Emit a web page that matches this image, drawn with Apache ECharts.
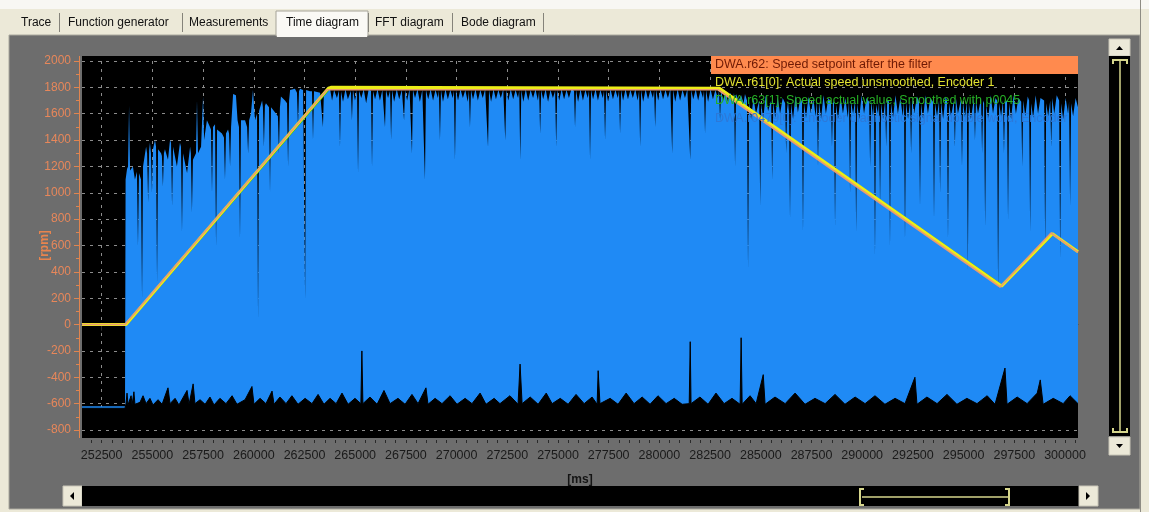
<!DOCTYPE html>
<html>
<head>
<meta charset="utf-8">
<title>Time diagram</title>
<script src="https://cdn.jsdelivr.net/npm/echarts@6.0.0/dist/echarts.min.js"></script>
<style>
  html, body { margin: 0; padding: 0; background: #ece9d8; }
  #chart { width: 1149px; height: 512px; }
</style>
</head>
<body>
<div id="chart"></div>
<script>
// trace signals, names as in the legend
const seriesNames = [
  'DWA.r62: Speed setpoint after the filter',
  'DWA.r61[0]: Actual speed unsmoothed, Encoder 1',
  'DWA.r63[1]: Speed actual value, Smoothed with p0045',
  'DWA.r0479[0]: Encoder diagnostic signal double word, Encoder 1'
];

const xTickLabels = [252500, 255000, 257500, 260000, 262500, 265000, 267500, 270000, 272500, 275000,
  277500, 280000, 282500, 285000, 287500, 290000, 292500, 295000, 297500, 300000];

// r62 setpoint [ms, rpm]
const setpoint = [[251530, 0], [253650, 0], [263610, 1782], [282890, 1782], [296800, 285], [299310, 695], [300640, 548]];
// r61 actual speed unsmoothed
const actualSpeed = [[251530, 0], [253700, 0], [263680, 1794], [263800, 1800], [282960, 1794], [296870, 292], [299380, 690], [300640, 552]];
// r63 actual speed smoothed
const smoothSpeed = [[251530, 0], [253740, 0], [263730, 1788], [283030, 1788], [296920, 296], [299420, 686], [300640, 555]];

// encoder diagnostic signal: upper edge of the blue band
const encoderTop = [
  [251530, -620], [253650, -620], [253680, 1100], [253750, 1180], [253800, 1200], [253850, 1660], [253900, 1170],
  [254040, 1200], [254140, 1100], [254240, 1160], [254290, 600], [254340, 1150], [254440, 1100], [254490, 200],
  [254540, 1200], [254690, 1350], [254740, 1300], [254790, 930], [254840, 1320], [254880, 1380], [254930, 1300],
  [254980, 1000], [255030, 1330], [255130, 1400], [255180, 1350], [255230, 320], [255280, 1330], [255430, 1300],
  [255470, 1280], [255520, 1050], [255570, 1300], [255620, 1330], [255770, 1250], [255870, 1400], [255920, 1380],
  [255970, 900], [256020, 1350], [256210, 1200], [256360, 1380], [256410, 1350], [256460, 700], [256510, 1300],
  [256710, 1150], [256860, 1350], [256900, 1300], [256950, 850], [257000, 1250], [257150, 1300], [257200, 1700],
  [257250, 1300], [257400, 1350], [257450, 1350], [257500, 1730], [257550, 1400], [257690, 1550], [257840, 1500],
  [257890, 1480], [257940, 1000], [257990, 1500], [258090, 1520], [258140, 600], [258190, 1480], [258430, 1450],
  [258530, 1420], [258580, 1100], [258630, 1450], [258730, 1480], [258780, 1450], [258830, 1200], [258880, 1500],
  [258980, 1750], [259120, 1740], [259200, 1550], [259270, 1500], [259320, 650], [259370, 1550], [259570, 1550],
  [259670, 1500], [259720, 1300], [259770, 1550], [259860, 1600], [259960, 1780], [260060, 1550], [260160, 1600],
  [260210, 40], [260260, 1620], [260410, 1700], [260450, 1650], [260500, 1350], [260550, 1660], [260600, 1680],
  [260750, 1650], [260800, 1000], [260850, 1650], [261100, 1600], [261190, 1580], [261240, 1300], [261290, 1650],
  [261340, 1730], [261540, 1700], [261640, 1680], [261690, 1200], [261740, 1700], [261790, 1780], [262030, 1790],
  [262130, 1760], [262180, 1500], [262230, 1770], [262280, 1790], [262430, 1780], [262480, 1780], [262530, 200],
  [262580, 1780], [262770, 1770], [262870, 1770], [262920, 1400], [262970, 1770], [263270, 1760], [263360, 1760],
  [263410, 1500], [263460, 1770], [263510, 1780],
  [263600, 1770], [263760, 1790], [263860, 1700], [263960, 1780], [264100, 1720], [264200, 1775], [264250, 1350],
  [264300, 1770], [264400, 1690], [264520, 1785], [264640, 1710], [264790, 1775], [264840, 1550], [264890, 1780],
  [264990, 1700], [265090, 1780], [265140, 1150], [265190, 1775], [265300, 1720], [265420, 1785], [265540, 1680],
  [265660, 1780], [265780, 1775], [265830, 1200], [265880, 1770], [265980, 1710], [266100, 1785], [266220, 1700],
  [266340, 1780], [266420, 1775], [266470, 1500], [266520, 1780], [266620, 1720], [266720, 1775], [266770, 1400],
  [266820, 1780], [266920, 1690], [267050, 1785], [267170, 1710], [267300, 1780], [267360, 1775], [267410, 1550],
  [267460, 1780], [267560, 1700], [267680, 1785], [267750, 1775], [267800, 1300], [267850, 1780], [267950, 1720],
  [268070, 1785], [268190, 1690], [268310, 1780], [268390, 1775], [268440, 1100], [268490, 1780], [268600, 1710],
  [268720, 1785], [268840, 1700], [268960, 1780], [269080, 1720], [269130, 1775], [269180, 1400], [269230, 1780],
  [269330, 1690], [269450, 1785], [269570, 1710], [269690, 1780], [269810, 1720], [269870, 1775], [269920, 1250],
  [269970, 1780], [270070, 1700], [270190, 1785], [270310, 1720], [270430, 1780], [270550, 1690], [270610, 1775],
  [270660, 1500], [270710, 1780], [270810, 1710], [270930, 1785], [271050, 1700], [271170, 1780], [271290, 1720],
  [271410, 1785], [271500, 1775], [271550, 1350], [271600, 1780], [271700, 1690], [271820, 1785], [271940, 1710],
  [272060, 1780], [272180, 1720], [272300, 1785], [272350, 1775], [272400, 1400], [272450, 1780], [272550, 1700],
  [272670, 1785], [272790, 1710], [272910, 1780], [273030, 1720], [273090, 1775], [273140, 1250], [273190, 1780],
  [273290, 1690], [273410, 1785], [273530, 1700], [273650, 1780], [273770, 1720], [273890, 1785], [274010, 1700],
  [274070, 1775], [274120, 1450], [274170, 1780], [274270, 1710], [274390, 1785], [274510, 1690], [274630, 1780],
  [274750, 1720], [274860, 1775], [274910, 1350], [274960, 1780], [275060, 1700], [275180, 1785], [275300, 1710],
  [275420, 1780], [275540, 1720], [275660, 1785], [275790, 1775], [275840, 1500], [275890, 1780], [275990, 1690],
  [276110, 1785], [276230, 1700], [276350, 1780], [276470, 1720], [276530, 1775], [276580, 1250], [276630, 1780],
  [276730, 1710], [276850, 1785], [276970, 1700], [277090, 1780], [277210, 1720], [277270, 1775], [277320, 1400],
  [277370, 1780], [277470, 1690], [277590, 1785], [277710, 1710], [277830, 1780], [277950, 1720], [278010, 1775],
  [278060, 1450], [278110, 1780], [278210, 1700], [278330, 1785], [278450, 1710], [278570, 1780], [278690, 1720],
  [278810, 1785], [278930, 1700], [279000, 1775], [279050, 1350], [279100, 1780], [279200, 1690], [279320, 1785],
  [279440, 1710], [279560, 1780], [279680, 1720], [279740, 1775], [279790, 1500], [279840, 1780], [279940, 1700],
  [280060, 1785], [280180, 1710], [280300, 1780], [280420, 1720], [280540, 1785], [280580, 1775], [280630, 1300],
  [280680, 1780], [280780, 1690], [280900, 1785], [281020, 1700], [281140, 1780], [281260, 1720], [281380, 1785],
  [281470, 1775], [281520, 1250], [281570, 1780], [281670, 1710], [281790, 1785], [281910, 1700], [282030, 1780],
  [282150, 1720], [282200, 1775], [282250, 1450], [282300, 1780], [282400, 1690], [282520, 1785], [282640, 1710],
  [282760, 1780], [282880, 1720], [282940, 1775], [282990, 1550], [283040, 1780], [283140, 1700], [283260, 1770],
  [283380, 1690], [283500, 1760], [283620, 1700], [283680, 1760], [283730, 1200], [283780, 1750], [283900, 1700],
  [284030, 1740], [284150, 1680], [284220, 1750],
  [284320, 1700], [284370, 420], [284420, 1690], [284520, 1560], [284640, 1720], [284760, 1600], [284920, 1700],
  [284970, 900], [285020, 1680], [285120, 1560], [285240, 1740], [285360, 1620], [285510, 1700], [285560, 1100],
  [285610, 1690], [285710, 1570], [285830, 1730], [285950, 1600], [286080, 1720], [286200, 1680], [286250, 1300],
  [286300, 1690], [286350, 1620], [286390, 1700], [286440, 800], [286490, 1680], [286590, 1560], [286710, 1740],
  [286830, 1610], [286950, 1720], [287030, 1690], [287080, 700], [287130, 1680], [287230, 1570], [287350, 1730],
  [287470, 1600], [287590, 1720], [287700, 1580], [287770, 1700], [287820, 1200], [287870, 1690], [287970, 1560],
  [288090, 1740], [288210, 1600], [288330, 1720], [288460, 1690], [288510, 1350], [288560, 1700], [288610, 1680],
  [288660, 750], [288710, 1670], [288810, 1560], [288930, 1730], [289050, 1600], [289170, 1720], [289290, 1570],
  [289350, 1700], [289400, 1000], [289450, 1690], [289550, 1600], [289650, 1700], [289700, 700], [289750, 1680],
  [289850, 1560], [289970, 1740], [290090, 1600], [290210, 1720], [290340, 1690], [290390, 1200], [290440, 1700],
  [290530, 1580], [290580, 1680], [290630, 530], [290680, 1670], [290780, 1600], [290830, 1690], [290880, 900],
  [290930, 1680], [291030, 1560], [291130, 1700], [291180, 1350], [291230, 1710], [291320, 1690], [291370, 600],
  [291420, 1680], [291520, 1570], [291640, 1740], [291760, 1600], [291880, 1720], [292000, 1580], [292060, 1700],
  [292110, 650], [292160, 1690], [292260, 1560], [292360, 1700], [292410, 1300], [292460, 1720], [292560, 1600],
  [292700, 1730], [292800, 1690], [292850, 900], [292900, 1680], [293000, 1560], [293120, 1740], [293240, 1600],
  [293360, 1720], [293490, 1690], [293540, 800], [293590, 1680], [293690, 1580], [293790, 1700], [293840, 1000],
  [293890, 1690], [293990, 1560], [294110, 1730], [294180, 1700], [294230, 650], [294280, 1680], [294380, 1580],
  [294520, 1700], [294570, 1350], [294620, 1720], [294720, 1600], [294870, 1710], [294920, 1200], [294970, 1690],
  [295070, 1570], [295160, 1700], [295210, 420], [295260, 1680], [295360, 1560], [295510, 1720], [295560, 1400],
  [295610, 1700], [295710, 1600], [295860, 1720], [295910, 1300], [295960, 1700], [296010, 1680], [296060, 750],
  [296110, 1670], [296210, 1560], [296330, 1740], [296450, 1600], [296570, 1720], [296650, 1700], [296700, 270],
  [296750, 1680], [296850, 1580], [296940, 1700], [296990, 1300], [297040, 1690], [297140, 1700], [297190, 800],
  [297240, 1680], [297340, 1560], [297460, 1740], [297580, 1600], [297700, 1720], [297840, 1690], [297890, 1200],
  [297940, 1700], [298040, 1580], [298160, 1730], [298230, 1700], [298280, 700], [298330, 1680], [298430, 1570],
  [298550, 1740], [298670, 1600], [298790, 1720], [298970, 1700], [299020, 600], [299070, 1680], [299170, 1580],
  [299270, 1700], [299320, 1350], [299370, 1720], [299470, 1600], [299590, 1740], [299710, 1700], [299760, 500],
  [299810, 1680], [299910, 1560], [300030, 1720], [300150, 1600], [300200, 1690], [300250, 900], [300300, 1680],
  [300400, 1580], [300520, 1720], [300640, 1650]
];

// lower edge of the blue band (black below it)
const encoderBottom = [
  [251530, -635], [253650, -635], [253700, -600], [253750, -520], [253800, -610], [253950, -540],
  [254000, -610], [254090, -510], [254140, -605], [254390, -590], [254540, -540], [254690, -600],
  [254880, -560], [255030, -610], [255280, -570], [255480, -605], [255770, -480], [255870, -600],
  [256120, -560], [256310, -610], [256710, -500], [256810, -605], [257010, -450], [257100, -600],
  [257350, -570], [257600, -605], [257840, -550], [258040, -610], [258330, -560], [258630, -600],
  [258930, -540], [259170, -605], [259570, -570], [259910, -470], [260010, -605], [260310, -560],
  [260600, -600], [260900, -505], [261000, -605], [261290, -550], [261590, -600], [261880, -540],
  [262180, -605], [262530, -560], [262870, -600], [263170, -530], [263460, -605], [263760, -560],
  [264060, -600], [264350, -520], [264650, -605], [264990, -560], [265280, -600], [265330, -200],
  [265380, -600], [265730, -550], [266080, -605], [266420, -500], [266720, -600], [267110, -560],
  [267460, -605], [267800, -530], [268100, -600], [268490, -480], [268590, -605], [268940, -560],
  [269280, -600], [269680, -540], [270020, -605], [270420, -560], [270760, -600], [271160, -520],
  [271450, -605], [271850, -560], [272140, -600], [272630, -540], [273030, -605], [273130, -300],
  [273230, -600], [273630, -550], [274020, -605], [274420, -520], [274710, -600], [275110, -560],
  [275500, -605], [275890, -530], [276290, -600], [276680, -550], [276930, -605], [276980, -350],
  [277070, -600], [277570, -560], [277960, -605], [278360, -520], [278750, -600], [279150, -550],
  [279540, -605], [279930, -540], [280330, -600], [280730, -560], [281120, -605], [281470, -600],
  [281520, -130], [281560, -600], [282000, -550], [282400, -605], [282790, -520], [283190, -600],
  [283580, -560], [283980, -605], [284030, -100], [284080, -605], [284470, -540], [284770, -600],
  [285120, -380], [285210, -605], [285700, -550], [286200, -600], [286690, -520], [287180, -605],
  [287670, -560], [288170, -600], [288660, -530], [289150, -605], [289650, -550], [290140, -600],
  [290630, -540], [291120, -605], [291620, -560], [292110, -600], [292600, -400], [292700, -605],
  [293190, -550], [293690, -600], [294180, -530], [294670, -605], [295160, -560], [295660, -600],
  [296160, -540], [296550, -605], [297040, -330], [297140, -605], [297640, -550], [298130, -600],
  [298630, -520], [298780, -420], [298920, -605], [299420, -560], [299910, -600], [300250, -540],
  [300640, -600]
];

const xMinorTicks = [];
for (let t = 252000; t <= 300500; t += 500) {
  xMinorTicks.push(t);
}

const chart = echarts.init(document.getElementById('chart'));

const tabs = [
  { text: 'Trace', x: 21 },
  { text: 'Function generator', x: 68 },
  { text: 'Measurements', x: 189 },
  { text: 'Time diagram', x: 286 },
  { text: 'FFT diagram', x: 375 },
  { text: 'Bode diagram', x: 461 },
];
const tabSeparators = [59, 182, 368, 452, 543];

const scrollYellow = '#d6d68c';
const btn = '#ece9d8';
const orange = '#e0844f';

const graphics = [
  { type: 'rect', z: -100, shape: { x: 0, y: 0, width: 1149, height: 9 }, style: { fill: '#f8f7f3' } },
  { type: 'rect', z: -90, shape: { x: 9, y: 35, width: 1131, height: 474 }, style: { fill: '#6d6d6d', stroke: '#aaa89e', lineWidth: 1 } },
  { type: 'rect', z: -85, shape: { x: 276, y: 11, width: 92, height: 25 }, style: { fill: '#faf9f5', stroke: '#a5a398', lineWidth: 1 } },
  { type: 'rect', z: -84, shape: { x: 277, y: 33, width: 90, height: 4 }, style: { fill: '#faf9f5' } },
  // black frame around the plot
  { type: 'rect', z: -50, shape: { x: 82, y: 56, width: 996, height: 6 }, style: { fill: '#000' } },
  { type: 'rect', z: -50, shape: { x: 82, y: 429, width: 996, height: 9 }, style: { fill: '#000' } },
  { type: 'line', z: 5, shape: { x1: 79.5, y1: 56, x2: 79.5, y2: 438 }, style: { stroke: orange, lineWidth: 1 } },
  // right scrollbar
  { type: 'rect', z: 10, shape: { x: 1109, y: 39, width: 21, height: 17 }, style: { fill: btn, stroke: '#c9c6b8' } },
  { type: 'polygon', z: 11, shape: { points: [[1116, 50], [1123, 50], [1119.5, 46]] }, style: { fill: '#000' } },
  { type: 'rect', z: 10, shape: { x: 1109, y: 56, width: 21, height: 380 }, style: { fill: '#000' } },
  { type: 'polyline', z: 11, shape: { points: [[1113, 64], [1113, 60], [1127, 60], [1127, 64]] }, style: { stroke: scrollYellow, lineWidth: 2, fill: null } },
  { type: 'line', z: 11, shape: { x1: 1120, y1: 61, x2: 1120, y2: 431 }, style: { stroke: scrollYellow, lineWidth: 1.5 } },
  { type: 'polyline', z: 11, shape: { points: [[1113, 428], [1113, 432], [1127, 432], [1127, 428]] }, style: { stroke: scrollYellow, lineWidth: 2, fill: null } },
  { type: 'rect', z: 10, shape: { x: 1109, y: 437, width: 21, height: 18 }, style: { fill: btn, stroke: '#c9c6b8' } },
  { type: 'polygon', z: 11, shape: { points: [[1116, 444], [1123, 444], [1119.5, 448]] }, style: { fill: '#000' } },
  { type: 'line', z: 10, shape: { x1: 1140.5, y1: 0, x2: 1140.5, y2: 512 }, style: { stroke: '#8e8c84', lineWidth: 1 } },
  // bottom scrollbar
  { type: 'rect', z: 10, shape: { x: 63, y: 486, width: 19, height: 20 }, style: { fill: btn, stroke: '#c9c6b8' } },
  { type: 'polygon', z: 11, shape: { points: [[74, 492], [74, 500], [70, 496]] }, style: { fill: '#000' } },
  { type: 'rect', z: 10, shape: { x: 82, y: 486, width: 997, height: 20 }, style: { fill: '#000' } },
  { type: 'rect', z: 10, shape: { x: 1079, y: 486, width: 19, height: 20 }, style: { fill: btn, stroke: '#c9c6b8' } },
  { type: 'polygon', z: 11, shape: { points: [[1086, 492], [1086, 500], [1090, 496]] }, style: { fill: '#000' } },
  { type: 'polyline', z: 11, shape: { points: [[864, 489], [860, 489], [860, 505], [864, 505]] }, style: { stroke: scrollYellow, lineWidth: 2, fill: null } },
  { type: 'polyline', z: 11, shape: { points: [[1005, 489], [1009, 489], [1009, 505], [1005, 505]] }, style: { stroke: scrollYellow, lineWidth: 2, fill: null } },
  { type: 'line', z: 11, shape: { x1: 862, y1: 497, x2: 1008, y2: 497 }, style: { stroke: scrollYellow, lineWidth: 1.5 } },
];
tabs.forEach((t) => {
  graphics.push({
    type: 'text', z: 12, x: t.x, y: 23,
    style: { text: t.text, fill: '#111', font: '12px "Liberation Sans"', textVerticalAlign: 'middle' },
  });
});
tabSeparators.forEach((sx) => {
  graphics.push({ type: 'line', z: 12, shape: { x1: sx + 0.5, y1: 13, x2: sx + 0.5, y2: 32 }, style: { stroke: '#85837a', lineWidth: 1 } });
});

const legendStyle = (color, bg) => ({
  color,
  backgroundColor: bg || 'transparent',
  width: 359,
  overflow: 'truncate',
  ellipsis: '',
  lineHeight: 14,
  padding: [2, 4, 2, 4],
  fontSize: 12.5,
  fontFamily: 'Liberation Sans',
});

const option = {
  backgroundColor: '#ece9d8',
  animation: false,
  graphic: graphics,
  grid: {
    left: 82, right: 71, top: 61, bottom: 82,
    show: true, backgroundColor: '#000', borderWidth: 0,
    outerBoundsMode: 'none',
  },
  legend: {
    orient: 'vertical',
    left: 706,
    top: 56,
    padding: 0,
    itemGap: 0,
    itemWidth: 0,
    itemHeight: 18,
    icon: 'none',
    selectedMode: false,
    data: [
      { name: seriesNames[0], textStyle: legendStyle('#6e1a05', '#ff8a4e') },
      { name: seriesNames[1], textStyle: legendStyle('#e2e232') },
      { name: seriesNames[2], textStyle: legendStyle('#26b026') },
      { name: seriesNames[3], textStyle: legendStyle('#2d78d8') },
    ],
  },
  xAxis: [
    {
      type: 'value',
      min: 251530,
      max: 300640,
      position: 'bottom',
      offset: 10,
      name: '[ms]',
      nameLocation: 'middle',
      nameGap: 34,
      nameMoveOverlap: false,
      nameTextStyle: { color: '#141414', fontWeight: 'bold', fontSize: 12, fontFamily: 'Liberation Sans' },
      axisLine: { show: true, lineStyle: { color: '#3c3c3c', width: 1 } },
      axisTick: { show: true, customValues: xTickLabels, length: 6, lineStyle: { color: '#2a2a2a' } },
      axisLabel: {
        customValues: xTickLabels, color: '#1a1a1a', fontSize: 12.5, fontFamily: 'Liberation Sans', margin: 9,
        formatter: (v) => String(v),
      },
      splitLine: { show: true, lineStyle: { color: '#8c8c8c', type: [3, 5], width: 1 } },
    },
    {
      type: 'value',
      min: 251530,
      max: 300640,
      position: 'bottom',
      offset: 10,
      axisLine: { show: false },
      axisTick: { show: true, customValues: xMinorTicks, length: 3, lineStyle: { color: '#2a2a2a' } },
      axisLabel: { show: false },
      splitLine: { show: false },
    },
  ],
  yAxis: {
    type: 'value',
    min: -800,
    max: 2000,
    interval: 200,
    offset: 3,
    name: '[rpm]',
    nameLocation: 'middle',
    nameRotate: 90,
    nameGap: 28,
    nameMoveOverlap: false,
    nameTextStyle: { color: '#e8844e', fontWeight: 'bold', fontSize: 12, fontFamily: 'Liberation Sans' },
    axisLine: { show: true, lineStyle: { color: orange, width: 1 } },
    axisTick: { show: true, length: 5, lineStyle: { color: orange } },
    minorTick: { show: true, splitNumber: 2, length: 3, lineStyle: { color: orange } },
    axisLabel: {
      color: '#e8875a', fontSize: 12, fontFamily: 'Liberation Sans', margin: 8,
      formatter: (v) => String(v),
    },
    splitLine: { show: true, lineStyle: { color: '#8c8c8c', type: [3, 5], width: 1 } },
  },
  series: [
    {
      name: seriesNames[3],
      type: 'line',
      data: encoderTop,
      showSymbol: false,
      lineStyle: { color: '#1f8af5', width: 0 },
      itemStyle: { color: '#1f8af5' },
      areaStyle: { color: '#1f8af5', opacity: 1, origin: 'start' },
    },
    {
      name: 'band floor',
      type: 'line',
      data: encoderBottom,
      showSymbol: false,
      lineStyle: { color: '#000', width: 1 },
      areaStyle: { color: '#000', opacity: 1, origin: 'start' },
    },
    {
      name: seriesNames[2],
      type: 'line',
      data: smoothSpeed,
      showSymbol: false,
      lineStyle: { color: '#30b030', width: 1.5 },
      itemStyle: { color: '#30b030' },
    },
    {
      name: seriesNames[1],
      type: 'line',
      data: actualSpeed,
      showSymbol: false,
      lineStyle: { color: '#ecec18', width: 3 },
      itemStyle: { color: '#ecec18' },
    },
    {
      name: seriesNames[0],
      type: 'line',
      data: setpoint,
      showSymbol: false,
      lineStyle: { color: '#e99a72', width: 1.6 },
      itemStyle: { color: '#e99a72' },
    },
  ],
};

chart.setOption(option);
</script>
</body>
</html>
